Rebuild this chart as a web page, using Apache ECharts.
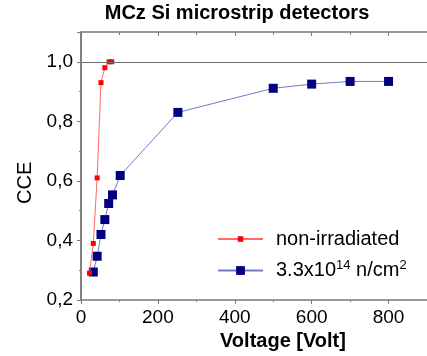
<!DOCTYPE html>
<html>
<head>
<meta charset="utf-8">
<script src="https://cdn.jsdelivr.net/npm/echarts@6/dist/echarts.min.js"></script>
<style>
  html, body { margin: 0; padding: 0; background: #fff; }
  #chart { width: 427px; height: 356px; }
</style>
</head>
<body>
<div id="chart"></div>
<script>
// Charge collection efficiency of MCz Si microstrip detectors vs bias voltage
const seriesNames = ['non-irradiated', '3.3x10^14 n/cm^2'];

const voltNonIrr = [22, 32, 42, 52, 62, 73, 80];
const cceNonIrr  = [0.29, 0.39, 0.61, 0.93, 0.98, 1.0, 1.0];

const voltIrr = [32, 42, 52, 62, 72, 82, 102, 252, 500, 600, 700, 800];
const cceIrr  = [0.294, 0.347, 0.42, 0.47, 0.524, 0.553, 0.618, 0.83, 0.911, 0.925, 0.934, 0.934];

const xTicks = [0, 200, 400, 600, 800];
const yTicks = [0.2, 0.4, 0.6, 0.8, 1.0];

const FONT = 'Liberation Sans, Arial, sans-serif';
const AXIS_GREY = '#7a7a7a';

const pairs = (xs, ys) => xs.map((x, i) => [x, ys[i]]);

const chart = echarts.init(document.getElementById('chart'), null, { renderer: 'canvas' });

const gridBox = { left: 81, top: 32, width: 347, height: 268 };

const xFormatter = v => (xTicks.indexOf(v) >= 0 ? String(v) : '');
const yFormatter = v => {
  const hit = yTicks.find(t => Math.abs(t - v) < 1e-6);
  return hit === undefined ? '' : hit.toFixed(1).replace('.', ',');
};

const baseAxisLine = { show: true, lineStyle: { color: AXIS_GREY, width: 1.5 } };

const option = {
  animation: false,
  backgroundColor: '#ffffff',
  title: {
    text: 'MCz Si microstrip detectors',
    left: 237,
    top: 3,
    padding: 0,
    textAlign: 'center',
    textStyle: { fontFamily: FONT, fontSize: 20, fontWeight: 'bold', color: '#000' }
  },
  grid: gridBox,
  xAxis: [
    {
      type: 'value', min: 0, max: 900, interval: 200, position: 'bottom',
      axisLine: baseAxisLine,
      axisTick: { show: true, inside: false, length: 4, lineStyle: { color: AXIS_GREY, width: 1 } },
      minorTick: { show: true, splitNumber: 2, length: 2, lineStyle: { color: AXIS_GREY } },
      splitLine: { show: false },
      axisLabel: { margin: 8, formatter: xFormatter, fontFamily: FONT, fontSize: 19, color: '#000', showMaxLabel: false }
    },
    {
      type: 'value', min: 0, max: 900, interval: 200, position: 'top',
      axisLine: baseAxisLine,
      axisTick: { show: true, inside: true, length: 4, lineStyle: { color: AXIS_GREY, width: 1 } },
      minorTick: { show: true, splitNumber: 2, length: 3, lineStyle: { color: AXIS_GREY } },
      splitLine: { show: false },
      axisLabel: { show: false }
    }
  ],
  yAxis: [
    {
      type: 'value', min: 0.2, max: 1.1, interval: 0.2, position: 'left',
      axisLine: baseAxisLine,
      axisTick: { show: true, inside: false, length: 4, lineStyle: { color: AXIS_GREY, width: 1 } },
      minorTick: { show: true, splitNumber: 2, length: 2, lineStyle: { color: AXIS_GREY } },
      splitLine: { show: false },
      axisLabel: { margin: 8, formatter: yFormatter, fontFamily: FONT, fontSize: 19, color: '#000' }
    },
    {
      type: 'value', min: 0.2, max: 1.1, interval: 0.2, position: 'right',
      axisLine: baseAxisLine,
      axisTick: { show: true, inside: true, length: 4, lineStyle: { color: AXIS_GREY, width: 1 } },
      minorTick: { show: true, splitNumber: 2, length: 2, lineStyle: { color: AXIS_GREY } },
      splitLine: { show: false },
      axisLabel: { show: false }
    }
  ],
  legend: [
    {
      data: [seriesNames[0]],
      orient: 'vertical', left: 217, top: 229, padding: 0,
      itemWidth: 45, itemHeight: 7,
      textStyle: { fontFamily: FONT, fontSize: 20, color: '#000', padding: [0, 0, 0, 8] }
    },
    {
      data: [seriesNames[1]],
      orient: 'vertical', left: 217, top: 259, padding: 0,
      itemWidth: 45, itemHeight: 11,
      formatter: () => '3.3x10{sup|14} n/cm{sup|2}',
      textStyle: {
        fontFamily: FONT, fontSize: 20, color: '#000', padding: [0, 0, 0, 8],
        rich: { sup: { fontFamily: FONT, fontSize: 13, color: '#000', padding: [0, 0, 10, 0] } }
      }
    }
  ],
  graphic: [
    {
      type: 'text', left: 220, top: 331,
      style: { text: 'Voltage [Volt]', font: 'bold 20px ' + FONT, fill: '#000' }
    },
    {
      type: 'text', x: 15, y: 204, rotation: Math.PI / 2,
      style: { text: 'CCE', font: '20px ' + FONT, fill: '#000' }
    }
  ],
  series: [
    {
      name: seriesNames[0], type: 'line',
      data: pairs(voltNonIrr, cceNonIrr),
      symbol: 'rect', symbolSize: 5,
      itemStyle: { color: '#ff0000' },
      lineStyle: { color: '#ff6a6a', width: 1 },
      z: 3,
      markLine: {
        silent: true, symbol: 'none',
        label: { show: false },
        lineStyle: { color: '#6e6e6e', width: 1.2, type: 'solid' },
        data: [{ yAxis: 1.0 }]
      }
    },
    {
      name: seriesNames[1], type: 'line',
      data: pairs(voltIrr, cceIrr),
      symbol: 'rect', symbolSize: 9,
      itemStyle: { color: '#000080', borderWidth: 0 },
      lineStyle: { color: '#7777cc', width: 1 },
      z: 2
    }
  ]
};

chart.setOption(option);
</script>
</body>
</html>
